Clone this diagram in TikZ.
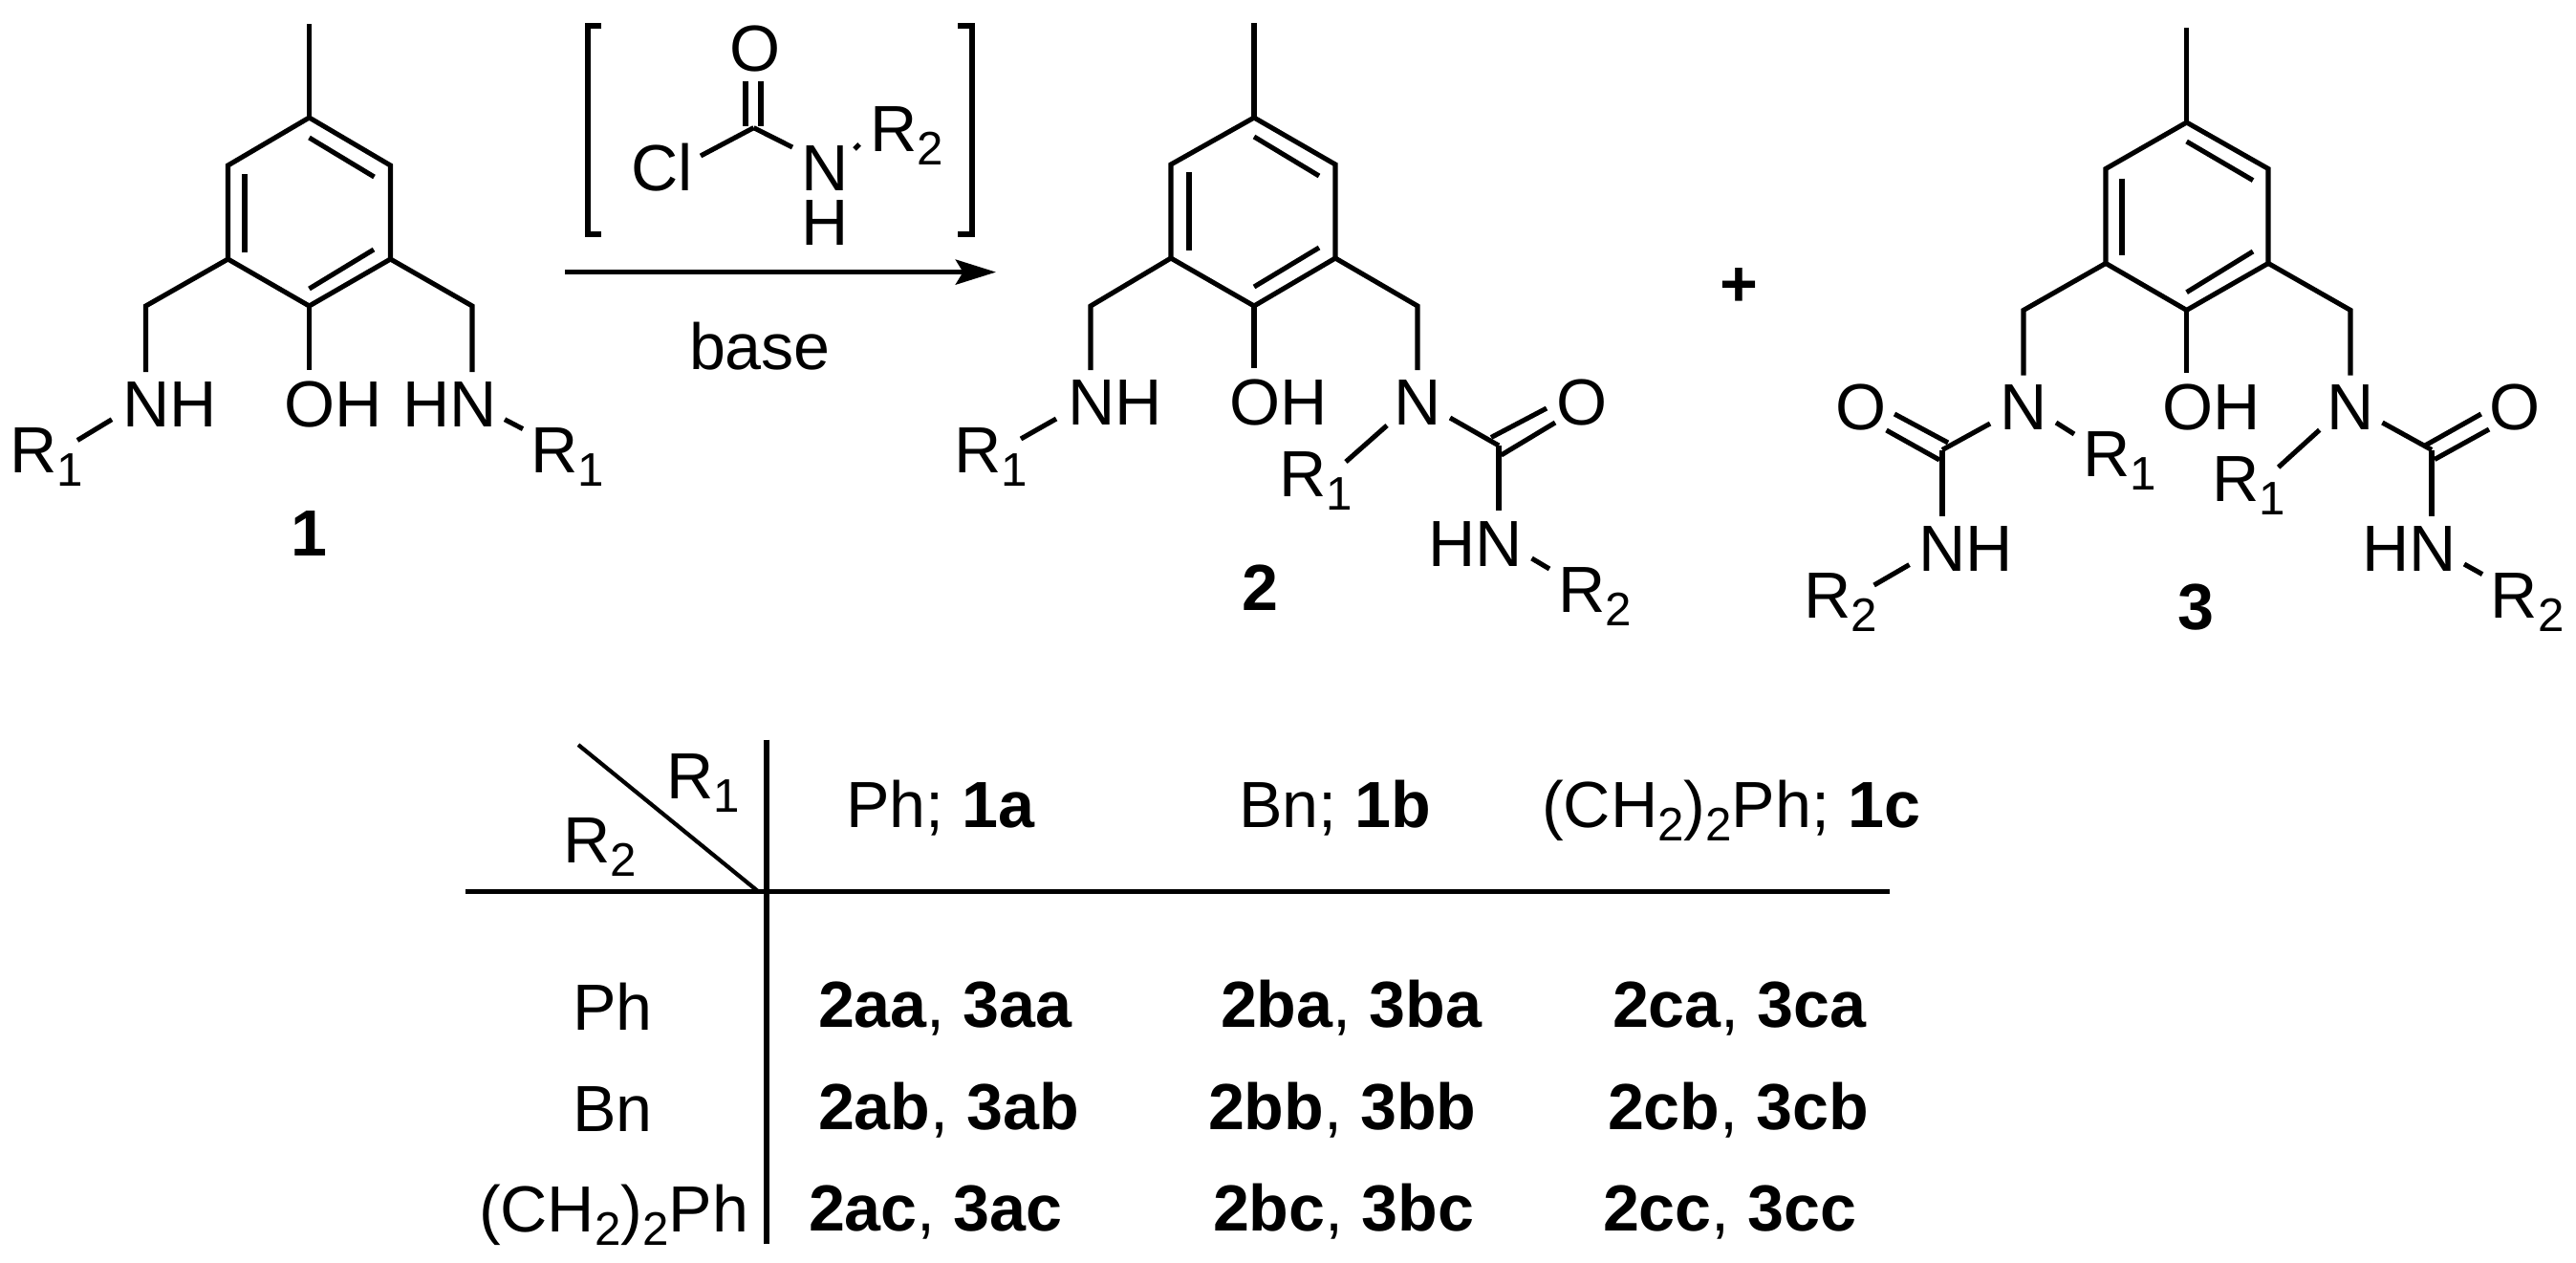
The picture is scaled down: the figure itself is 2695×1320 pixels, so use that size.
\documentclass[tikz,border=0pt]{standalone}
\usepackage{fontspec}
\setmainfont{Liberation Sans}
\usetikzlibrary{arrows.meta}
\newcommand\sbs[1]{\raisebox{-4pt}{\fontsize{14}{14}\selectfont #1}}
\newcommand\lab[3]{\node[lbl] (#1) at (#2) {#3};}
\newcommand\bnd[2]{\draw[bondline] (#1) -- (#2);}
\tikzset{
  x=0.01cm,y=-0.01cm,
  lbl/.style={anchor=base west,inner sep=0pt,outer sep=0pt,font=\fontsize{19.4}{19.4}\selectfont,text=black},
  bondline/.style={line width=1.45pt,line cap=butt,draw=black},
  rule/.style={line width=1.45pt,draw=black},
  bracket/.style={line width=1.6pt,draw=black,line join=miter},
}
\begin{document}
\begin{tikzpicture}
\useasboundingbox (0,0) rectangle (2695,1320);
% ---------- compound 1
\coordinate (ame) at (323.5,25); \coordinate (ac4) at (323.5,123);
\coordinate (aur) at (408.5,173); \coordinate (aul) at (238.5,173);
\coordinate (alr) at (408.5,271); \coordinate (all) at (238.5,271);
\coordinate (abo) at (323.5,320);
\coordinate (aia) at (323.5,144); \coordinate (aib) at (391.5,185);
\coordinate (aic) at (256,182); \coordinate (aid) at (256,264);
\coordinate (aie) at (391,261); \coordinate (aif) at (323.5,302);
\coordinate (acl) at (152.5,320); \coordinate (acle) at (152.5,389);
\coordinate (acr) at (494,320); \coordinate (acre) at (494,389);
\coordinate (aohe) at (323.5,387);
\draw[bondline,line join=miter] (ac4) -- (aur) -- (alr) -- (abo) -- (all) -- (aul) -- cycle;
\bnd{ame}{ac4}
\bnd{aia}{aib}\bnd{aic}{aid}\bnd{aie}{aif}
\draw[bondline,line join=miter] (all) -- (acl) -- (acle);
\draw[bondline,line join=miter] (alr) -- (acr) -- (acre);
\bnd{abo}{aohe}
\lab{aNH}{128,446}{NH}
\lab{aR1}{10,494}{R\sbs{1}}
\lab{aOH}{297,446}{OH}
\lab{aHN}{421,446}{HN}
\lab{aR1b}{555,494}{R\sbs{1}}
\lab{anum}{304,581}{\textbf{1}}
\coordinate (ab1) at (81,460.5); \coordinate (ab2) at (117,438.7);
\coordinate (ab3) at (528,438.7); \coordinate (ab4) at (547,448.6);
\bnd{ab1}{ab2}\bnd{ab3}{ab4}
% ---------- reagent
\coordinate (brla) at (629,27); \coordinate (brlb) at (615,27); \coordinate (brlc) at (615,245); \coordinate (brld) at (629,245);
\coordinate (brra) at (1002,27); \coordinate (brrb) at (1017,27); \coordinate (brrc) at (1017,245); \coordinate (brrd) at (1002,245);
\draw[bracket] (brla) -- (brlb) -- (brlc) -- (brld);
\draw[bracket] (brra) -- (brrb) -- (brrc) -- (brrd);
\lab{rO}{763,74.3}{O}
\lab{rCl}{660,199.6}{Cl}
\lab{rN}{838,199.6}{N}
\lab{rH}{838,256}{H}
\lab{rR}{910,158}{R\sbs{2}}
\coordinate (rc) at (788.5,133.6);
\coordinate (rd1) at (780,85); \coordinate (rd2) at (780,132);
\coordinate (rd3) at (796,85); \coordinate (rd4) at (796,132);
\coordinate (rb1) at (733,163); \coordinate (rb2) at (829,154);
\coordinate (rb3) at (899,151); \coordinate (rb4) at (894,156);
\bnd{rd1}{rd2}\bnd{rd3}{rd4}\bnd{rb1}{rc}\bnd{rc}{rb2}\bnd{rb3}{rb4}
\coordinate (arra) at (591,284.6); \coordinate (arrb) at (1042,284.6);
\draw[line width=1.45pt,-{Stealth[length=12pt,width=7.4pt,inset=2.2pt]}] (arra) -- (arrb);
\lab{base}{721,386.5}{base}
% ---------- compound 2
\coordinate (bme) at (1312,24); \coordinate (bc4) at (1312,123);
\coordinate (bur) at (1397,172); \coordinate (bul) at (1225,172);
\coordinate (blr) at (1397,270); \coordinate (bll) at (1225,270);
\coordinate (bbo) at (1312,320);
\coordinate (bia) at (1312,143); \coordinate (bib) at (1380,184);
\coordinate (bic) at (1244,180); \coordinate (bid) at (1244,262);
\coordinate (bie) at (1380,259); \coordinate (bif) at (1312,300);
\coordinate (bcl) at (1141,320); \coordinate (bcle) at (1141,387);
\coordinate (bcr) at (1483,320); \coordinate (bcre) at (1483,387);
\coordinate (bohe) at (1312,385);
\draw[bondline,line join=miter] (bc4) -- (bur) -- (blr) -- (bbo) -- (bll) -- (bul) -- cycle;
\bnd{bme}{bc4}
\bnd{bia}{bib}\bnd{bic}{bid}\bnd{bie}{bif}
\draw[bondline,line join=miter] (bll) -- (bcl) -- (bcle);
\draw[bondline,line join=miter] (blr) -- (bcr) -- (bcre);
\bnd{bbo}{bohe}
\lab{bNH}{1117,444.5}{NH}
\lab{bR1}{998,494}{R\sbs{1}}
\lab{bOH}{1286,444.5}{OH}
\lab{bN}{1458,444.5}{N}
\lab{bO}{1628,444.5}{O}
\lab{bR1b}{1338,519}{R\sbs{1}}
\lab{bHN}{1494,592}{HN}
\lab{bR2}{1630,640.5}{R\sbs{2}}
\lab{bnum}{1299,638}{\textbf{2}}
\coordinate (bb1) at (1068,459); \coordinate (bb2) at (1105,438);
\coordinate (bb3) at (1451,445); \coordinate (bb4) at (1408,483);
\coordinate (bc) at (1568,466); \coordinate (bb5) at (1517,437);
\coordinate (bd1) at (1560,457.5); \coordinate (bd2) at (1618,427);
\coordinate (bd3) at (1570.5,476); \coordinate (bd4) at (1627,442);
\coordinate (bb6) at (1568,534);
\coordinate (bb7) at (1602.5,584); \coordinate (bb8) at (1621,595);
\bnd{bb1}{bb2}\bnd{bb3}{bb4}\bnd{bb5}{bc}\bnd{bd1}{bd2}\bnd{bd3}{bd4}\bnd{bc}{bb6}\bnd{bb7}{bb8}
% plus
\lab{plus}{1799,320}{\textbf{+}}
% ---------- compound 3
\coordinate (cme) at (2287.6,29); \coordinate (cc4) at (2287.6,128);
\coordinate (cur) at (2373,176.5); \coordinate (cul) at (2203,176.5);
\coordinate (clr) at (2373,275.4); \coordinate (cll) at (2203,275.4);
\coordinate (cbo) at (2287.6,324.4);
\coordinate (cia) at (2287.6,148); \coordinate (cib) at (2357,188.6);
\coordinate (cic) at (2220,186.5); \coordinate (cid) at (2220,266.7);
\coordinate (cie) at (2357,263); \coordinate (cif) at (2287.6,305.7);
\coordinate (ccl) at (2117,324.4); \coordinate (ccle) at (2117,392.5);
\coordinate (ccr) at (2459,324.4); \coordinate (ccre) at (2459,392.5);
\coordinate (cohe) at (2287.6,390);
\draw[bondline,line join=miter] (cc4) -- (cur) -- (clr) -- (cbo) -- (cll) -- (cul) -- cycle;
\bnd{cme}{cc4}
\bnd{cia}{cib}\bnd{cic}{cid}\bnd{cie}{cif}
\draw[bondline,line join=miter] (cll) -- (ccl) -- (ccle);
\draw[bondline,line join=miter] (clr) -- (ccr) -- (ccre);
\bnd{cbo}{cohe}
\lab{cN}{2092,449.7}{N}
\lab{cO}{1920,449.7}{O}
\lab{cNH}{2007.5,597}{NH}
\lab{cR2}{1887.5,646}{R\sbs{2}}
\lab{cR1}{2179,498.7}{R\sbs{1}}
\lab{cOH}{2262,449.7}{OH}
\lab{cNb}{2434,449.7}{N}
\lab{cOb}{2604,449.7}{O}
\lab{cR1b}{2314.5,524}{R\sbs{1}}
\lab{cHN}{2471,597}{HN}
\lab{cR2b}{2605.7,646}{R\sbs{2}}
\lab{cnum}{2278,658}{\textbf{3}}
\coordinate (cC) at (2032,470.5); \coordinate (cb1) at (2082,443);
\coordinate (cd1) at (1982,433); \coordinate (cd2) at (2038,463);
\coordinate (cd3) at (1973.5,450); \coordinate (cd4) at (2029,481);
\coordinate (cb2) at (2032,540);
\coordinate (cb3) at (1960.6,612); \coordinate (cb4) at (1997.5,590.6);
\coordinate (cb5) at (2151,442); \coordinate (cb6) at (2170,454);
\coordinate (cb7) at (2426.6,449.7); \coordinate (cb8) at (2383.6,488.7);
\coordinate (cCb) at (2544,470.5); \coordinate (cb9) at (2492.4,442);
\coordinate (ce1) at (2537,466); \coordinate (ce2) at (2595.7,433);
\coordinate (ce3) at (2547,480.5); \coordinate (ce4) at (2604,449);
\coordinate (cb10) at (2544,540);
\coordinate (cb11) at (2578,590); \coordinate (cb12) at (2597,600.6);
\bnd{cb1}{cC}\bnd{cd1}{cd2}\bnd{cd3}{cd4}\bnd{cC}{cb2}\bnd{cb3}{cb4}\bnd{cb5}{cb6}
\bnd{cb7}{cb8}\bnd{cb9}{cCb}\bnd{ce1}{ce2}\bnd{ce3}{ce4}\bnd{cCb}{cb10}\bnd{cb11}{cb12}
% ---------- table
\coordinate (tva) at (802,773.6); \coordinate (tvb) at (802,1301);
\coordinate (tha) at (487,932.5); \coordinate (thb) at (1977,932.5);
\coordinate (tda) at (605,779); \coordinate (tdb) at (794,933);
\draw[rule] (tva) -- (tvb);
\draw[rule] (tha) -- (thb);
\draw[line width=1.2pt] (tda) -- (tdb);
\lab{tR1}{697,835}{R\sbs{1}}
\lab{tR2}{589,902}{R\sbs{2}}
\lab{th1}{885,865}{Ph; \textbf{1a}}
\lab{th2}{1296,865}{Bn; \textbf{1b}}
\lab{th3}{1613,865}{(CH\sbs{2})\sbs{2}Ph; \textbf{1c}}
\lab{tr1}{599,1077}{Ph}
\lab{tr2}{599,1183}{Bn}
\lab{tr3}{501,1288.5}{(CH\sbs{2})\sbs{2}Ph}
\lab{taa}{856,1074}{\textbf{2aa}, \textbf{3aa}}
\lab{tba}{1277,1074}{\textbf{2ba}, \textbf{3ba}}
\lab{tca}{1687,1074}{\textbf{2ca}, \textbf{3ca}}
\lab{tab}{856,1181}{\textbf{2ab}, \textbf{3ab}}
\lab{tbb}{1264,1181}{\textbf{2bb}, \textbf{3bb}}
\lab{tcb}{1682,1181}{\textbf{2cb}, \textbf{3cb}}
\lab{tac}{846,1287}{\textbf{2ac}, \textbf{3ac}}
\lab{tbc}{1269,1287}{\textbf{2bc}, \textbf{3bc}}
\lab{tcc}{1677,1287}{\textbf{2cc}, \textbf{3cc}}
\end{tikzpicture}
\end{document}
